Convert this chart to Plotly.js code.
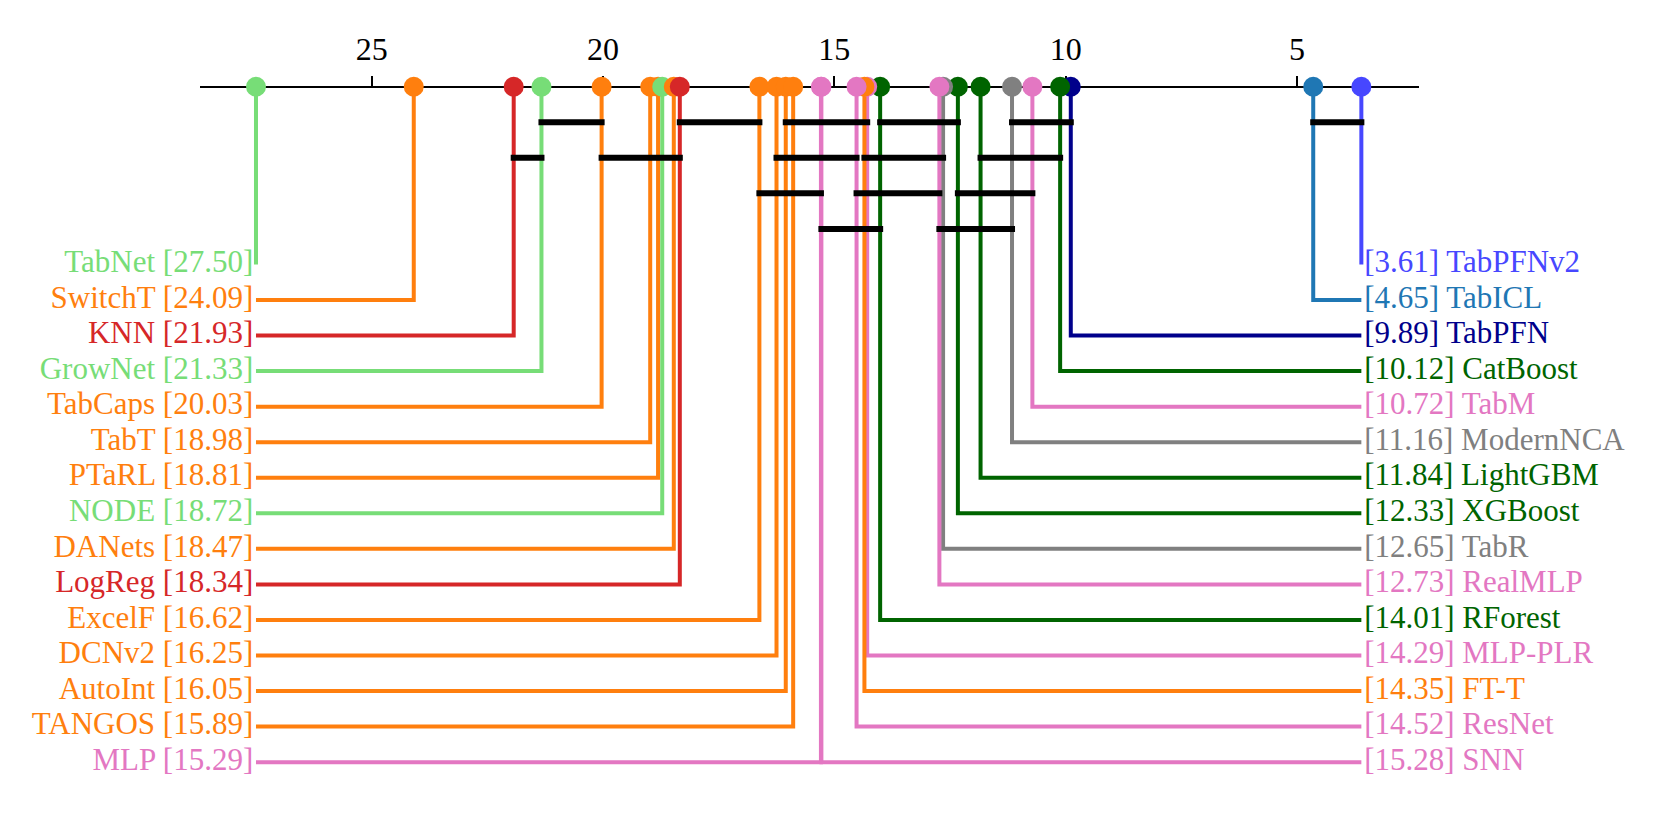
<!DOCTYPE html>
<html>
<head>
<meta charset="utf-8">
<script src="https://cdn.plot.ly/plotly-3.0.1.min.js"></script>
<style>html,body{margin:0;padding:0;background:#fff;}#chart{width:1661px;height:830px;}</style>
</head>
<body>
<div id="chart"></div>
<script>
// ---- data ----
const leftNames  = ['TabNet','SwitchT','KNN','GrowNet','TabCaps','TabT','PTaRL','NODE','DANets','LogReg','ExcelF','DCNv2','AutoInt','TANGOS','MLP'];
const leftRanks  = [27.50, 24.09, 21.93, 21.33, 20.03, 18.98, 18.81, 18.72, 18.47, 18.34, 16.62, 16.25, 16.05, 15.89, 15.29];
const leftColors = ['#77dd77','#ff7f0e','#d62728','#77dd77','#ff7f0e','#ff7f0e','#ff7f0e','#77dd77','#ff7f0e','#d62728','#ff7f0e','#ff7f0e','#ff7f0e','#ff7f0e','#e377c2'];

const rightNames  = ['TabPFNv2','TabICL','TabPFN','CatBoost','TabM','ModernNCA','LightGBM','XGBoost','TabR','RealMLP','RForest','MLP-PLR','FT-T','ResNet','SNN'];
const rightRanks  = [3.61, 4.65, 9.89, 10.12, 10.72, 11.16, 11.84, 12.33, 12.65, 12.73, 14.01, 14.29, 14.35, 14.52, 15.28];
const rightColors = ['#4747ff','#1f77b4','#00008b','#006400','#e377c2','#808080','#006400','#006400','#808080','#e377c2','#006400','#e377c2','#ff7f0e','#e377c2','#e377c2'];

// cliques (groups not significantly different): from method, to method, bar row
const cliqueFrom = ['GrowNet','LogReg','AutoInt','RForest','ModernNCA','TabICL','KNN','TabCaps','DCNv2','FT-T','LightGBM','ExcelF','ResNet','XGBoost','SNN','RealMLP'];
const cliqueTo   = ['TabCaps','ExcelF','MLP-PLR','XGBoost','TabPFN','TabPFNv2','GrowNet','LogReg','ResNet','TabR','CatBoost','MLP','RealMLP','TabM','RForest','ModernNCA'];
const cliqueRow  = [1,1,1,1,1,1,2,2,2,2,2,3,3,3,4,4];

const tickVals = [25, 20, 15, 10, 5];

// ---- build ----
const FONT = 'Liberation Serif, Times New Roman, DejaVu Serif, serif';
const rankOf = {};
leftNames.forEach((n,i)=>rankOf[n]=leftRanks[i]);
rightNames.forEach((n,i)=>rankOf[n]=rightRanks[i]);
const maxRank = Math.max(...leftRanks);
const minRank = Math.min(...rightRanks);
const FIRST_LABEL_ROW = 5;
const CAP = 0.065;     // bar end padding (style)
const TXT_GAP = 0.06;  // gap between line end and text (style)

const traces = [];
// method lines
leftNames.forEach((n,i)=>{
  const row = FIRST_LABEL_ROW + i;
  traces.push({type:'scatter', mode:'lines', x:[leftRanks[i], leftRanks[i], maxRank], y:[0, row, row],
    line:{color:leftColors[i], width:4}, hoverinfo:'skip', showlegend:false});
});
rightNames.forEach((n,i)=>{
  const row = FIRST_LABEL_ROW + i;
  traces.push({type:'scatter', mode:'lines', x:[rightRanks[i], rightRanks[i], minRank], y:[0, row, row],
    line:{color:rightColors[i], width:4}, hoverinfo:'skip', showlegend:false});
});
// clique bars
cliqueFrom.forEach((f,k)=>{
  const a = rankOf[f], b = rankOf[cliqueTo[k]];
  const hi = Math.max(a,b), lo = Math.min(a,b);
  traces.push({type:'scatter', mode:'lines', x:[hi+CAP, lo-CAP], y:[cliqueRow[k], cliqueRow[k]],
    line:{color:'#000', width:6}, hoverinfo:'skip', showlegend:false});
});
// markers (left list then right list, later on top)
traces.push({type:'scatter', mode:'markers', x:leftRanks.concat(rightRanks), y:leftRanks.concat(rightRanks).map(()=>0),
  marker:{size:20, color:leftColors.concat(rightColors), line:{width:0}}, hoverinfo:'skip', showlegend:false, cliponaxis:false});
// labels
traces.push({type:'scatter', mode:'text', x:leftRanks.map(()=>maxRank+TXT_GAP), y:leftNames.map((n,i)=>FIRST_LABEL_ROW+i),
  text:leftNames.map((n,i)=>n+' ['+leftRanks[i].toFixed(2)+']'), textposition:'middle left',
  textfont:{family:FONT, size:31, color:leftColors}, hoverinfo:'skip', showlegend:false, cliponaxis:false});
traces.push({type:'scatter', mode:'text', x:rightRanks.map(()=>minRank-TXT_GAP), y:rightNames.map((n,i)=>FIRST_LABEL_ROW+i),
  text:rightNames.map((n,i)=>'['+rightRanks[i].toFixed(2)+'] '+n), textposition:'middle right',
  textfont:{family:FONT, size:31, color:rightColors}, hoverinfo:'skip', showlegend:false, cliponaxis:false});

const layout = {
  width:1661, height:830,
  margin:{l:200, r:242, t:0, b:0, pad:0},
  paper_bgcolor:'#fff', plot_bgcolor:'#fff',
  showlegend:false,
  xaxis:{range:[28.71, 2.364], side:'top', anchor:'free', position:1-86.7/830,
    showline:true, linecolor:'#000', linewidth:2, layer:'below traces',
    ticks:'outside', ticklen:10, tickwidth:2, tickcolor:'#000', ticklabelstandoff:3,
    tickvals:tickVals, ticktext:tickVals.map(String),
    tickfont:{family:FONT, size:32, color:'#000'},
    showgrid:false, zeroline:false, fixedrange:true},
  yaxis:{range:[20.909, -2.439], visible:false, showgrid:false, zeroline:false, fixedrange:true}
};

Plotly.newPlot('chart', traces, layout, {displayModeBar:false, staticPlot:true});
</script>
</body>
</html>
